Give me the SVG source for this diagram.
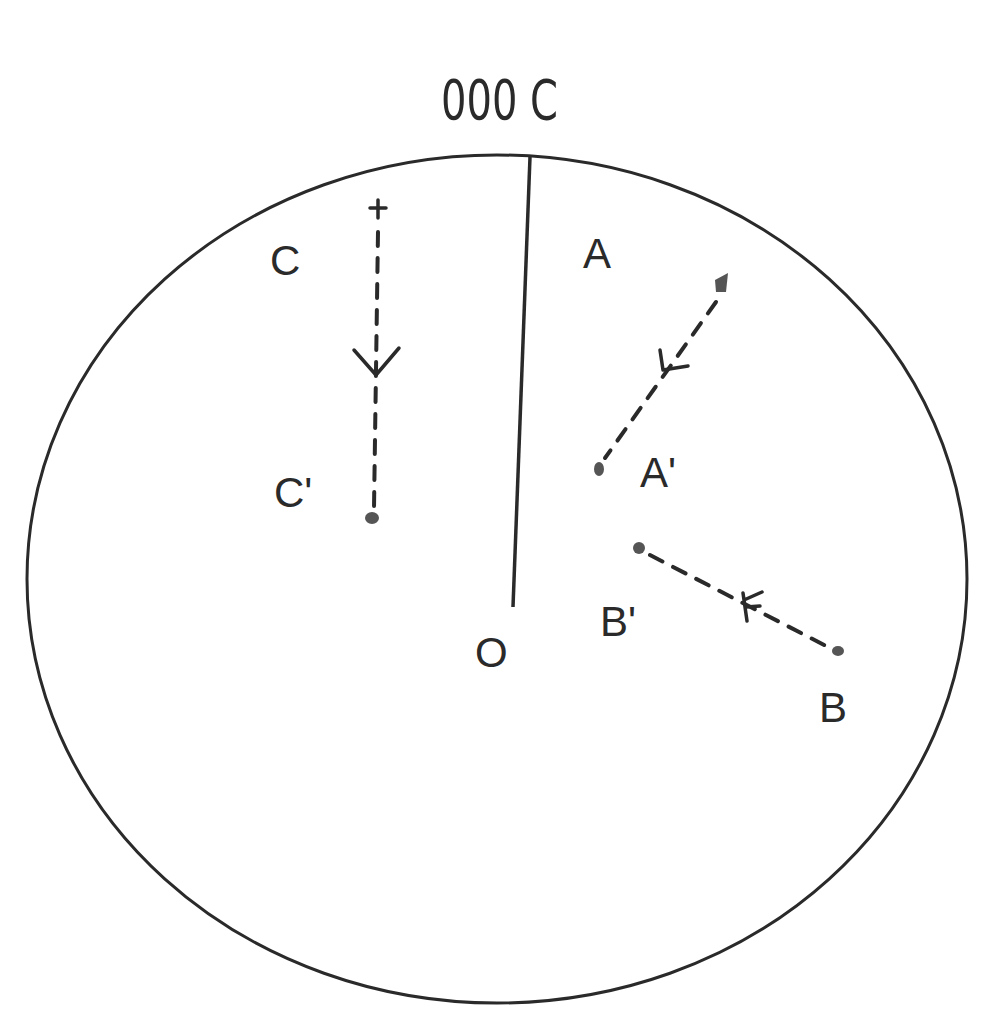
<svg xmlns="http://www.w3.org/2000/svg" width="989" height="1024" viewBox="0 0 989 1024">
<style>
.lbl{font-family:"Liberation Sans",Arial,sans-serif;font-size:42px;fill:#2a2a2a}
.dash{stroke:#2a2a2a;stroke-width:4;stroke-dasharray:14 12;fill:none;stroke-linecap:round}
.arr{stroke:#2a2a2a;stroke-width:3.5;fill:none;stroke-linecap:round;stroke-linejoin:round}
.dot{fill:#555}
</style>
<rect width="989" height="1024" fill="#ffffff"/>
<g id="circle">
<ellipse cx="497" cy="579" rx="470" ry="424" fill="none" stroke="#2a2a2a" stroke-width="3"/>
</g>
<g id="north">
<line x1="530" y1="157" x2="513" y2="607" stroke="#2a2a2a" stroke-width="3.5"/>
<text class="lbl" x="441" y="119" style="font-family:'Liberation Sans Narrow','DejaVu Sans Condensed',sans-serif;font-size:56px" textLength="117" lengthAdjust="spacingAndGlyphs">000 C</text>
</g>
<g id="O"><text class="lbl" x="475" y="667">O</text></g>
<g id="C">
<text class="lbl" x="270" y="275">C</text>
<path class="arr" d="M378 200 V218 M370 208 H386" stroke-width="4.5"/>
</g>
<g id="Cprime">
<text class="lbl" x="274" y="507">C'</text>
<ellipse class="dot" cx="372" cy="518" rx="7" ry="6"/>
</g>
<g id="A"><text class="lbl" x="583" y="268">A</text>
<path class="dot" d="M715 280 L728 273 L726 292 L716 292 Z"/>
</g>
<g id="Aprime">
<text class="lbl" x="640" y="487">A'</text>
<ellipse class="dot" cx="599" cy="469" rx="5" ry="7"/>
</g>
<g id="B">
<text class="lbl" x="819" y="722">B</text>
<ellipse class="dot" cx="838" cy="651" rx="6" ry="5"/>
</g>
<g id="Bprime">
<text class="lbl" x="600" y="636">B'</text>
<ellipse class="dot" cx="639" cy="548" rx="6" ry="6"/>
</g>
<g id="connectors">
<line class="dash" x1="378" y1="232" x2="374" y2="508"/>
<path class="arr" d="M354 350 L376 375 L399 348"/>
<line class="dash" x1="716" y1="302" x2="605" y2="458"/>
<path class="arr" d="M660 350 L663 370 L688 366"/>
<line class="dash" x1="650" y1="555" x2="828" y2="647"/>
<path class="arr" d="M743 593 L747 621 M744 600 L762 592 M746 607 L760 606"/>
</g>
</svg>
